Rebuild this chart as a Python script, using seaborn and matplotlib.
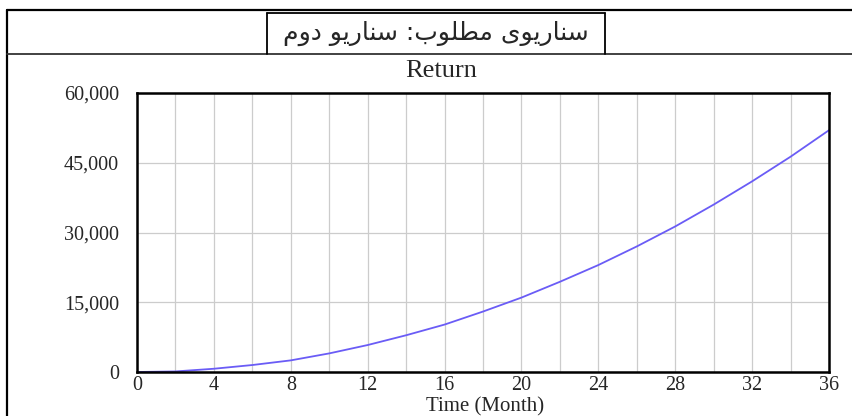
import numpy as np
import pandas as pd
import seaborn as sns
import matplotlib.pyplot as plt
from matplotlib.lines import Line2D

# values
months = [0, 2, 4, 6, 8, 10, 12, 14, 16, 18, 20, 22, 24, 26, 28, 30, 32, 34, 36]
returns = [0, 120, 700, 1500, 2500, 4000, 5800, 7900, 10200, 13000, 16000,
           19400, 23000, 27000, 31300, 36000, 41000, 46300, 52000]
x_ticks = [0, 4, 8, 12, 16, 20, 24, 28, 32, 36]
y_ticks = [0, 15000, 30000, 45000, 60000]
y_labels = ['0', '15,000', '30,000', '45,000', '60,000']
header = 'سناریوی مطلوب: سناریو دوم'
title = 'Return'
xlabel = 'Time (Month)'

# minimal arabic shaping (matplotlib has no bidi / joining support)
forms = {  # isolated, final, initial, medial
    'ا': ('\uFE8D', '\uFE8E', None, None),
    'ب': ('\uFE8F', '\uFE90', '\uFE91', '\uFE92'),
    'د': ('\uFEA9', '\uFEAA', None, None),
    'ر': ('\uFEAD', '\uFEAE', None, None),
    'س': ('\uFEB1', '\uFEB2', '\uFEB3', '\uFEB4'),
    'ط': ('\uFEC1', '\uFEC2', '\uFEC3', '\uFEC4'),
    'ل': ('\uFEDD', '\uFEDE', '\uFEDF', '\uFEE0'),
    'م': ('\uFEE1', '\uFEE2', '\uFEE3', '\uFEE4'),
    'ن': ('\uFEE5', '\uFEE6', '\uFEE7', '\uFEE8'),
    'و': ('\uFEED', '\uFEEE', None, None),
    'ی': ('\uFBFC', '\uFBFD', '\uFBFE', '\uFBFF'),
}


def shape(s):
    out = []
    for i, c in enumerate(s):
        if c not in forms:
            out.append(c)
            continue
        prev = s[i - 1] if i > 0 else ''
        nxt = s[i + 1] if i + 1 < len(s) else ''
        join_prev = prev in forms and forms[prev][2] is not None
        join_next = nxt in forms and forms[c][2] is not None
        iso, fin, ini, med = forms[c]
        if join_prev and join_next:
            out.append(med)
        elif join_prev:
            out.append(fin)
        elif join_next:
            out.append(ini)
        else:
            out.append(iso)
    return ''.join(out)[::-1]


df = pd.DataFrame({'Time': months, 'Return': returns})

sns.set_style('white')
plt.rcParams['font.family'] = ['Liberation Serif', 'DejaVu Sans']

W, H = 853, 416
fig = plt.figure(figsize=(W / 100, H / 100), dpi=100)
ax = fig.add_axes([137 / W, 1 - 372 / H, (829 - 137) / W, (372 - 93) / H])

sns.lineplot(data=df, x='Time', y='Return', color='#6a5cf6', linewidth=1.3, ax=ax)

ax.set_xlim(0, 36)
ax.set_ylim(0, 60000)
ax.set_xticks(x_ticks)
ax.set_xticklabels([str(t) for t in x_ticks], fontsize=14.5)
ax.set_yticks(y_ticks)
ax.set_yticklabels(y_labels, fontsize=14.5)
ax.set_xticks(np.arange(0, 37, 2), minor=True)
ax.grid(True, which='both', color='#cccccc', linewidth=0.9)
ax.tick_params(which='both', length=0)
ax.tick_params(axis='y', pad=13)
ax.tick_params(axis='x', pad=3)
ax.set_xlabel('')
ax.set_ylabel('')
for sp in ax.spines.values():
    sp.set_color('black')
    sp.set_linewidth(1.8)

fig.text(485 / W, 1 - 407 / H, xlabel, ha='center', va='center', fontsize=15)
fig.text(441 / W, 1 - 71 / H, title, ha='center', va='center', fontsize=19)
fig.text(436 / W, 1 - 33 / H, shape(header), ha='center', va='center',
         fontsize=18, family=['DejaVu Sans'])


def fl(x0, y0, x1, y1, lw=1.6, c='black'):
    fig.add_artist(Line2D([x0 / W, x1 / W], [1 - y0 / H, 1 - y1 / H],
                          color=c, linewidth=lw, transform=fig.transFigure))


# outer frame
fl(7, 10, W, 10)
fl(7, 10, 7, H)
fl(7, 54, W, 54, lw=1.3, c='#333333')
# header box
fl(267, 13, 605, 13, lw=1.3)
fl(267, 13, 267, 54, lw=1.3)
fl(605, 13, 605, 54, lw=1.3)

fig.savefig('out.png', dpi=100)
